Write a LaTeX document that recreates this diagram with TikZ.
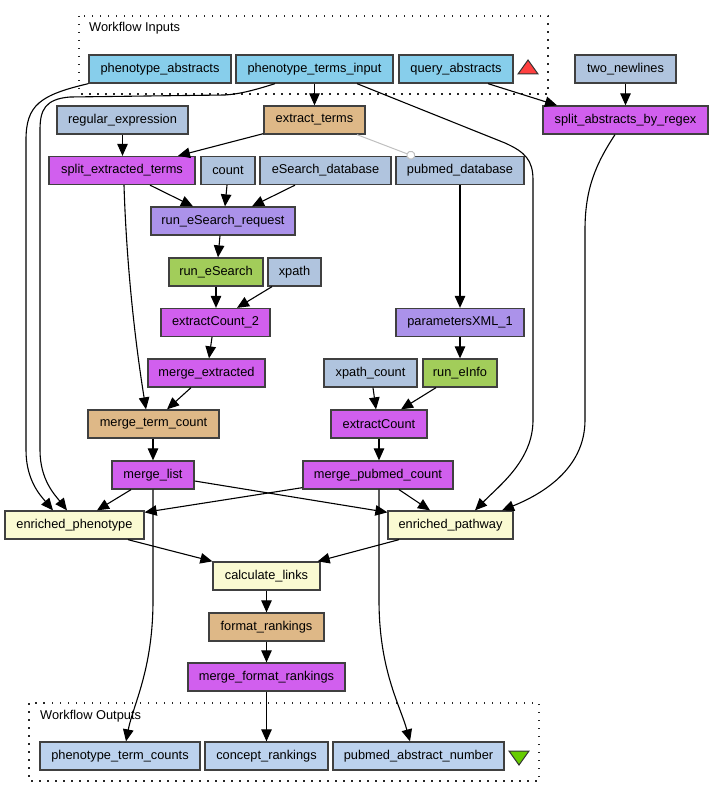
\documentclass[tikz,border=0pt]{standalone}
\usepackage{fontspec}
\setmainfont{Liberation Sans}
\usetikzlibrary{arrows.meta,calc}
\definecolor{cinp}{HTML}{87CEEB}
\definecolor{cconst}{HTML}{B0C4DE}
\definecolor{cbean}{HTML}{DEB887}
\definecolor{cmerge}{HTML}{D15FEE}
\definecolor{cxml}{HTML}{AB92EA}
\definecolor{cws}{HTML}{A2CD5A}
\definecolor{cr}{HTML}{FAFAD2}
\definecolor{cout}{HTML}{BCD2EE}
\definecolor{cred}{HTML}{FF4040}
\definecolor{cgreen}{HTML}{66CC00}
\begin{document}
\begin{tikzpicture}[x=1pt,y=-1pt,font=\fontsize{12.8}{15}\selectfont,
  box/.style={draw=black!75,line width=1.3pt,inner sep=0pt,minimum height=28pt,anchor=center},
  edge/.style={draw=black,line width=1.1pt,-{Triangle[length=12pt,width=10.5pt]}},
  cluster/.style={draw=black!85,line width=1.5pt,dash pattern=on 1.5pt off 6.5pt}]
\useasboundingbox (0,0) rectangle (713,797);
% clusters
\draw[cluster] (79,16) rectangle (548,94);
\node[anchor=west,inner sep=0pt] (lblin) at (89,28) {Workflow Inputs};
\draw[cluster] (29,703) rectangle (539,781);
\node[anchor=west,inner sep=0pt] (lblout) at (40,716) {Workflow Outputs};
% inputs
\node[box,fill=cinp,minimum width=142pt] (phenotype_abstracts) at (160,69) {phenotype\_abstracts};
\node[box,fill=cinp,minimum width=157pt] (phenotype_terms_input) at (314.5,69) {phenotype\_terms\_input};
\node[box,fill=cinp,minimum width=114pt] (query_abstracts) at (456,69) {query\_abstracts};
\draw[fill=cred,draw=black!80,line width=1pt] (518,74) -- (538,74) -- (528,60) -- cycle;
\node[box,fill=cconst,minimum width=101pt] (two_newlines) at (625.5,69) {two\_newlines};
% row 2
\node[box,fill=cconst,minimum width=131pt] (regular_expression) at (122.5,120) {regular\_expression};
\node[box,fill=cbean,minimum width=101pt] (extract_terms) at (314.5,120) {extract\_terms};
\node[box,fill=cmerge,minimum width=165pt] (split_abstracts_by_regex) at (625.5,120) {split\_abstracts\_by\_regex};
% row 3
\node[box,fill=cmerge,minimum width=146pt] (split_extracted_terms) at (122,170.5) {split\_extracted\_terms};
\node[box,fill=cconst,minimum width=54pt] (count) at (228,170.5) {count};
\node[box,fill=cconst,minimum width=131pt] (eSearch_database) at (325.5,170.5) {eSearch\_database};
\node[box,fill=cconst,minimum width=128pt] (pubmed_database) at (460,170.5) {pubmed\_database};
% row 4
\node[box,fill=cxml,minimum width=144pt] (run_eSearch_request) at (223,221) {run\_eSearch\_request};
\node[box,fill=cws,minimum width=94pt] (run_eSearch) at (216,272) {run\_eSearch};
\node[box,fill=cconst,minimum width=53pt] (xpath) at (294.5,272) {xpath};
\node[box,fill=cmerge,minimum width=109pt] (extractCount_2) at (215.5,322.5) {extractCount\_2};
\node[box,fill=cxml,minimum width=128pt] (parametersXML_1) at (460,322.5) {parametersXML\_1};
\node[box,fill=cmerge,minimum width=117pt] (merge_extracted) at (206.5,373) {merge\_extracted};
\node[box,fill=cconst,minimum width=93pt] (xpath_count) at (370.5,373) {xpath\_count};
\node[box,fill=cws,minimum width=74pt] (run_eInfo) at (460,373) {run\_eInfo};
\node[box,fill=cbean,minimum width=131pt] (merge_term_count) at (153.5,424) {merge\_term\_count};
\node[box,fill=cmerge,minimum width=96pt] (extractCount) at (379,424) {extractCount};
\node[box,fill=cmerge,minimum width=82pt] (merge_list) at (153,475) {merge\_list};
\node[box,fill=cmerge,minimum width=150pt] (merge_pubmed_count) at (378,475) {merge\_pubmed\_count};
\node[box,fill=cr,minimum width=139pt] (enriched_phenotype) at (74.5,525) {enriched\_phenotype};
\node[box,fill=cr,minimum width=125pt] (enriched_pathway) at (450.5,525) {enriched\_pathway};
\node[box,fill=cr,minimum width=107pt] (calculate_links) at (266.5,576) {calculate\_links};
\node[box,fill=cbean,minimum width=115pt] (format_rankings) at (266.5,627) {format\_rankings};
\node[box,fill=cmerge,minimum width=157pt] (merge_format_rankings) at (266.5,677) {merge\_format\_rankings};
% outputs
\node[box,fill=cout,minimum width=160pt] (phenotype_term_counts) at (120,756) {phenotype\_term\_counts};
\node[box,fill=cout,minimum width=123pt] (concept_rankings) at (266.5,756) {concept\_rankings};
\node[box,fill=cout,minimum width=171pt] (pubmed_abstract_number) at (418.5,756) {pubmed\_abstract\_number};
\draw[fill=cgreen,draw=black!80,line width=1pt] (509,751) -- (529,751) -- (519,765) -- cycle;
% edges
\draw[edge] (phenotype_terms_input.south) -- (extract_terms.north);
\draw[edge] (regular_expression.south) -- ([xshift=0.5pt]split_extracted_terms.north);
\draw[edge] ([yshift=1pt]extract_terms.south west) -- ([xshift=56pt]split_extracted_terms.north);
\draw[draw=black!25,line width=1pt,-{Circle[open,length=9pt,fill=white]}] ([xshift=42.5pt]extract_terms.south) -- ([xshift=-45pt,yshift=-1pt]pubmed_database.north);
\draw[edge] ([xshift=28pt]split_extracted_terms.south) -- ([xshift=-30pt]run_eSearch_request.north);
\draw[edge] ([xshift=-1pt]count.south) -- ([xshift=2pt]run_eSearch_request.north);
\draw[edge] ([xshift=-30.5pt]eSearch_database.south) -- ([xshift=29pt]run_eSearch_request.north);
\draw[edge] ([xshift=-3pt]run_eSearch_request.south) -- ([xshift=2pt]run_eSearch.north);
\draw[edge] (run_eSearch.south) -- ([xshift=0.5pt]extractCount_2.north);
\draw[edge] ([xshift=-22.5pt]xpath.south) -- ([xshift=21.5pt]extractCount_2.north);
\draw[edge] ([xshift=-3.5pt]extractCount_2.south) -- ([xshift=2.5pt]merge_extracted.north);
\draw[edge] ([xshift=-15.5pt]merge_extracted.south) -- ([xshift=13.5pt]merge_term_count.north);
\draw[edge] ([xshift=2pt]split_extracted_terms.south) .. controls (127,280) and (138,360) .. ([xshift=-7.5pt]merge_term_count.north);
\draw[edge] (pubmed_database.south) -- (parametersXML_1.north);
\draw[edge] (parametersXML_1.south) -- (run_eInfo.north);
\draw[edge] ([xshift=2.5pt]xpath_count.south) -- ([xshift=-3pt]extractCount.north);
\draw[edge] ([xshift=-24pt]run_eInfo.south) -- ([xshift=22pt]extractCount.north);
\draw[edge] ([xshift=-0.5pt]merge_term_count.south) -- (merge_list.north);
\draw[edge] (extractCount.south) -- ([xshift=1pt]merge_pubmed_count.north);
\draw[edge] ([xshift=-22pt]merge_list.south) -- ([xshift=22.5pt]enriched_phenotype.north);
\draw[edge] ([yshift=-6pt]merge_list.east) -- ([yshift=-2pt]enriched_pathway.north west);
\draw[edge] ([yshift=2pt]merge_pubmed_count.south west) -- ([yshift=-2pt]enriched_phenotype.north east);
\draw[edge] ([xshift=21pt]merge_pubmed_count.south) -- ([xshift=-20.5pt]enriched_pathway.north);
\draw[edge] (merge_list.south) -- (153,600) .. controls (153,670) and (133,705) .. ([xshift=6pt]phenotype_term_counts.north);
\draw[edge] ([xshift=1pt]merge_pubmed_count.south) -- (379,600) .. controls (379,670) and (400,705) .. ([xshift=-8.5pt]pubmed_abstract_number.north);
\draw[edge] (phenotype_abstracts.south west) .. controls (40,95) and (26,105) .. (26,140) -- (26,450) .. controls (26,480) and (40,495) .. ([xshift=-21.5pt]enriched_phenotype.north);
\draw[edge] ([xshift=-39.5pt]phenotype_terms_input.south) .. controls (255,90) and (240,94) .. (225,95) -- (70,97) .. controls (45,99) and (40,110) .. (40,130) -- (40,450) .. controls (40,480) and (55,495) .. ([xshift=-7.5pt]enriched_phenotype.north);
\draw[edge] ([xshift=42.5pt]phenotype_terms_input.south) -- (505,143) .. controls (525,152) and (533,160) .. (533,180) -- (533,420) .. controls (533,460) and (500,485) .. ([xshift=24.5pt]enriched_pathway.north);
\draw[edge] ([xshift=32pt]query_abstracts.south) -- ([xshift=-68.5pt]split_abstracts_by_regex.north);
\draw[edge] (two_newlines.south) -- (split_abstracts_by_regex.north);
\draw[edge] ([xshift=-10.5pt]split_abstracts_by_regex.south) .. controls (595,165) and (585,190) .. (585,230) -- (585,420) .. controls (585,470) and (540,495) .. ([xshift=51.5pt]enriched_pathway.north);
\draw[edge] ([xshift=53.5pt]enriched_phenotype.south) -- (calculate_links.north west);
\draw[edge] ([xshift=-51.5pt]enriched_pathway.south) -- ([xshift=-3pt]calculate_links.north east);
\draw[edge] (calculate_links.south) -- (format_rankings.north);
\draw[edge] (format_rankings.south) -- (merge_format_rankings.north);
\draw[edge] (merge_format_rankings.south) -- (concept_rankings.north);
\end{tikzpicture}
\end{document}
